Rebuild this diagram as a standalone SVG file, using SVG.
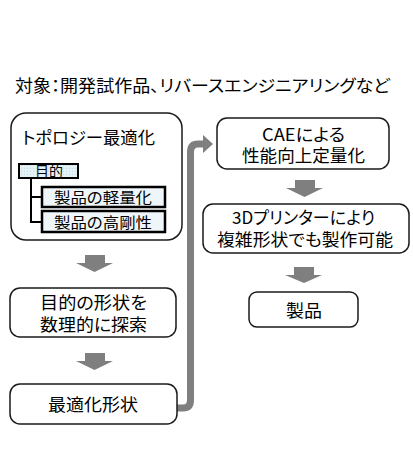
<svg xmlns="http://www.w3.org/2000/svg" width="413" height="453" viewBox="0 0 413 453">
<style>
text{font-family:"Noto Sans CJK JP","Noto Sans",sans-serif;fill:#000;text-anchor:middle;font-feature-settings:"palt"}
.box{fill:#fff;stroke:#1a1a1a;stroke-width:1.5}
.t{font-size:17px}
.s{font-size:15px}
.sub{fill:#eef6fa;stroke:#000;stroke-width:2.5}
.goal{fill:url(#dots);stroke:#000;stroke-width:2}
.arr{fill:#7f7f7f}
.tree{fill:none;stroke:#000;stroke-width:2}
</style>
<defs>
<pattern id="dots" width="3" height="3" patternUnits="userSpaceOnUse">
<rect width="3" height="3" fill="#e4f2f6"/>
<rect width="1" height="1" fill="#c8dde6"/>
</pattern>
</defs>
<rect width="413" height="453" fill="#fff"/>
<text x="202.5" y="92" style="font-size:16.5px" textLength="375" lengthAdjust="spacingAndGlyphs">対象：開発試作品、リバースエンジニアリングなど</text>

<g id="connectors">
<path d="M177,408 H183 Q190.5,408 190.5,400 V152 Q190.5,144 198,144 H205" fill="none" stroke="#7f7f7f" stroke-width="7"/>
<polygon class="arr" points="203,135 213,144 203,153"/>
<polygon class="arr" points="85,255 105,255 105,263 113,263 94.5,272 76,263 85,263"/>
<polygon class="arr" points="85,353 105,353 105,361 113,361 94.5,370 76,361 85,361"/>
<polygon class="arr" points="295,180 315,180 315,188 323,188 304.5,197 286,188 295,188"/>
<polygon class="arr" points="294,267 314,267 314,275 322,275 304,283 285,275 294,275"/>
</g>

<g id="topology">
<rect class="box" x="11" y="113" width="171" height="127" rx="15"/>
<text class="t" x="88.5" y="144" textLength="133" lengthAdjust="spacingAndGlyphs">トポロジー最適化</text>
<path class="tree" d="M31,178 V222 H42 M31,197 H42"/>
<rect class="goal" x="19" y="164" width="59" height="14"/>
<text class="s" x="49" y="177" textLength="28" lengthAdjust="spacingAndGlyphs">目的</text>
<rect class="sub" x="42" y="187" width="123" height="20"/>
<text class="s" x="103" y="202.5" textLength="98" lengthAdjust="spacingAndGlyphs">製品の軽量化</text>
<rect class="sub" x="42" y="211" width="123" height="21"/>
<text class="s" x="103" y="228" textLength="98" lengthAdjust="spacingAndGlyphs">製品の高剛性</text>
</g>

<g id="search">
<rect class="box" x="10" y="288" width="166" height="49" rx="10"/>
<text class="t" x="93.5" y="309" textLength="107" lengthAdjust="spacingAndGlyphs">目的の形状を</text>
<text class="t" x="93.5" y="331" textLength="107" lengthAdjust="spacingAndGlyphs">数理的に探索</text>
</g>

<g id="optimal">
<rect class="box" x="10" y="384" width="167" height="40" rx="10"/>
<text class="t" x="93" y="411" textLength="90" lengthAdjust="spacingAndGlyphs">最適化形状</text>
</g>

<g id="cae">
<rect class="box" x="217" y="118" width="172" height="51" rx="10"/>
<text class="t" x="303.5" y="140.5" textLength="83" lengthAdjust="spacingAndGlyphs">CAEによる</text>
<text class="t" x="303.5" y="161.5" textLength="123" lengthAdjust="spacingAndGlyphs">性能向上定量化</text>
</g>

<g id="printer">
<rect class="box" x="203" y="204" width="206" height="49" rx="10"/>
<text class="t" x="303.5" y="224" textLength="143" lengthAdjust="spacingAndGlyphs">3Dプリンターにより</text>
<text class="t" x="305" y="246" textLength="176" lengthAdjust="spacingAndGlyphs">複雑形状でも製作可能</text>
</g>

<g id="product">
<rect class="box" x="249" y="292" width="109" height="35" rx="8"/>
<text class="t" x="304" y="317" textLength="36" lengthAdjust="spacingAndGlyphs">製品</text>
</g>
</svg>
